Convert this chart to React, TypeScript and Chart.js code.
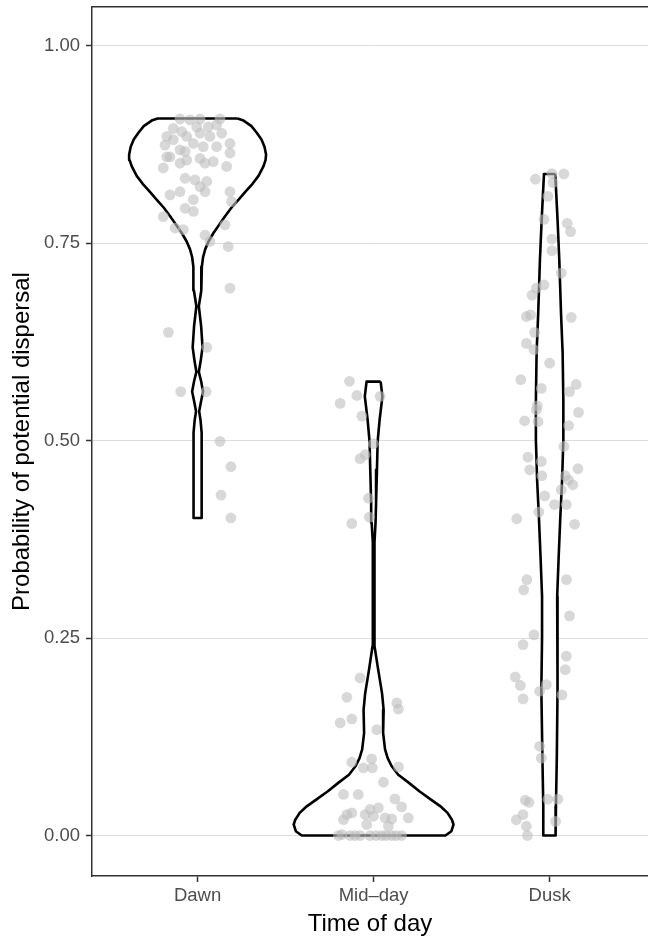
import React, { useEffect, useRef } from "react";
import { Chart, registerables } from "chart.js";

Chart.register(...registerables);

// ---- data ----
const categories = ["Dawn", "Mid\u2013day", "Dusk"];
const yTicks = [0, 0.25, 0.5, 0.75, 1.0];
const Y_MIN = -0.0512;
const Y_MAX = 1.0488;
const X_MIN = 0.4;
const X_MAX = 3.559;

// violin outlines: level (probability) and half-width (category units)
const dawnLevels = [0.9076, 0.905, 0.898, 0.89, 0.881, 0.872, 0.862, 0.855, 0.847, 0.835, 0.825, 0.815, 0.805, 0.795, 0.784, 0.773, 0.763, 0.752, 0.742, 0.732, 0.72, 0.69, 0.67, 0.645, 0.618, 0.6, 0.587, 0.575, 0.562, 0.55, 0.537, 0.525, 0.51, 0.402];
const dawnHalfWidths = [0.227, 0.261, 0.306, 0.335, 0.363, 0.38, 0.389, 0.386, 0.374, 0.346, 0.312, 0.272, 0.233, 0.193, 0.156, 0.122, 0.091, 0.062, 0.043, 0.031, 0.024, 0.021, 0.007, 0.02, 0.028, 0.017, 0.007, 0.02, 0.031, 0.02, 0.009, 0.017, 0.023, 0.023];

const middayLevels = [0.5746, 0.556, 0.526, 0.499, 0.463, 0.421, 0.396, 0.371, 0.3, 0.24, 0.21, 0.18, 0.159, 0.13, 0.109, 0.098, 0.088, 0.077, 0.067, 0.056, 0.0455, 0.037, 0.0287, 0.02, 0.014, 0.0055, 0];
const middayHalfWidths = [0.04, 0.05, 0.034, 0.023, 0.019, 0.014, 0.011, 0.005, 0.004, 0.006, 0.026, 0.048, 0.057, 0.054, 0.065, 0.08, 0.102, 0.14, 0.199, 0.26, 0.326, 0.38, 0.42, 0.445, 0.454, 0.442, 0.408];

const duskLevels = [0.8375, 0.78, 0.7287, 0.66, 0.6107, 0.55, 0.501, 0.45, 0.404, 0.35, 0.303, 0.25, 0.185, 0.1, 0.037, 0];
const duskHalfWidths = [0.032, 0.045, 0.055, 0.065, 0.074, 0.078, 0.078, 0.071, 0.061, 0.051, 0.043, 0.043, 0.047, 0.041, 0.036, 0.034];

// jittered observations: value and horizontal jitter (category units)
const dawnValues = [0.907, 0.906, 0.907, 0.907, 0.895, 0.891, 0.897, 0.897, 0.8995, 0.885, 0.881, 0.885, 0.889, 0.885, 0.889, 0.876, 0.874, 0.868, 0.866, 0.876, 0.872, 0.872, 0.864, 0.859, 0.859, 0.851, 0.855, 0.857, 0.851, 0.853, 0.847, 0.845, 0.832, 0.83, 0.828, 0.8215, 0.811, 0.815, 0.805, 0.815, 0.815, 0.8025, 0.794, 0.79, 0.7835, 0.769, 0.767, 0.76, 0.773, 0.7456, 0.752, 0.693, 0.637, 0.618, 0.562, 0.562, 0.499, 0.467, 0.431, 0.402];
const dawnJitter = [-0.1, -0.043, 0.014, 0.127, -0.138, -0.09, -0.005, 0.061, 0.108, -0.175, -0.138, -0.062, 0.014, 0.07, 0.137, 0.184, -0.185, -0.1, -0.071, -0.024, 0.032, 0.108, 0.184, -0.175, -0.157, -0.1, -0.062, 0.014, 0.042, 0.089, 0.165, -0.195, -0.071, -0.015, 0.052, 0.014, -0.157, -0.1, -0.024, 0.042, 0.184, 0.193, -0.071, -0.024, -0.195, -0.128, -0.081, 0.042, 0.155, 0.174, 0.07, 0.184, -0.166, 0.052, -0.096, 0.048, 0.127, 0.189, 0.133, 0.189];

const middayValues = [0.575, 0.557, 0.547, 0.556, 0.531, 0.496, 0.482, 0.477, 0.427, 0.403, 0.395, 0.1995, 0.175, 0.168, 0.16, 0.1426, 0.1476, 0.134, 0.0928, 0.0857, 0.097, 0.0857, 0.087, 0.0675, 0.052, 0.052, 0.0464, 0.0363, 0.0266, 0.033, 0.035, 0.0244, 0.0224, 0.0211, 0.0224, 0.0202, 0.0266, 0.0287, 0.0013, 0, 0, 0, 0, 0, 0, 0, 0.014, 0.012, 0, 0, 0, 0];
const middayJitter = [-0.137, -0.095, -0.19, 0.037, -0.067, -0.001, -0.048, -0.077, -0.029, -0.024, -0.124, -0.077, -0.152, 0.132, 0.141, -0.19, -0.124, 0.018, -0.124, -0.058, -0.011, -0.007, 0.141, 0.056, -0.171, -0.087, 0.121, 0.159, -0.152, -0.02, 0.027, -0.001, 0.065, 0.103, 0.197, -0.171, -0.048, -0.124, -0.18, -0.134, -0.077, -0.02, 0.047, 0.103, 0.159, -0.2, -0.039, 0.084, -0.105, 0.014, 0.071, 0.128];

const duskValues = [0.8308, 0.838, 0.8375, 0.8265, 0.809, 0.78, 0.775, 0.7645, 0.755, 0.7405, 0.712, 0.697, 0.693, 0.684, 0.657, 0.659, 0.656, 0.637, 0.623, 0.615, 0.598, 0.577, 0.566, 0.571, 0.562, 0.544, 0.539, 0.5356, 0.525, 0.524, 0.519, 0.4925, 0.479, 0.4735, 0.463, 0.4643, 0.4555, 0.4555, 0.45, 0.444, 0.4377, 0.43, 0.419, 0.419, 0.4095, 0.401, 0.394, 0.324, 0.311, 0.324, 0.278, 0.254, 0.2417, 0.227, 0.21, 0.2008, 0.19, 0.191, 0.1826, 0.173, 0.178, 0.113, 0.098, 0.0447, 0.042, 0.046, 0.046, 0.0266, 0.02, 0.0118, 0.018, 0];
const duskJitter = [-0.081, 0.013, 0.081, 0.019, -0.01, -0.032, 0.1, 0.119, 0.013, 0.013, 0.066, -0.032, -0.075, -0.1, -0.132, -0.108, 0.123, -0.085, -0.132, -0.089, 0, -0.164, -0.047, 0.151, 0.113, -0.07, -0.075, 0.164, -0.142, -0.066, 0.108, 0.081, -0.123, -0.047, -0.113, 0.161, -0.044, 0.089, 0.108, 0.132, 0.066, -0.028, 0.028, 0.095, -0.061, -0.187, 0.142, -0.129, -0.147, 0.096, 0.113, -0.089, -0.151, 0.095, 0.089, -0.195, -0.166, -0.019, -0.057, -0.151, 0.07, -0.057, -0.047, -0.138, -0.117, -0.01, 0.047, -0.151, -0.189, -0.132, 0.034, -0.126];

const FONT = "'Liberation Sans', Arial, Helvetica, sans-serif";
const TICK_SIZE = 18.5;
const TITLE_SIZE = 24;

function violinOutline(center: number, levels: number[], widths: number[]) {
  const right = levels.map((y, i) => ({ x: center + widths[i], y }));
  const left = levels.map((y, i) => ({ x: center - widths[i], y })).reverse();
  const pts = [...right, ...left];
  pts.push(pts[0]);
  return pts;
}

function jitterPoints(center: number, values: number[], jitter: number[]) {
  return values.map((v, i) => ({ x: center + jitter[i], y: v }));
}

function noPadding(s: any) {
  s.paddingLeft = 0;
  s.paddingRight = 0;
  s.paddingTop = 0;
  s.paddingBottom = 0;
}

export default function App() {
  const canvasRef = useRef<HTMLCanvasElement | null>(null);

  useEffect(() => {
    if (!canvasRef.current) return;
    Chart.defaults.font.family = FONT;

    const violins = [
      [dawnLevels, dawnHalfWidths],
      [middayLevels, middayHalfWidths],
      [duskLevels, duskHalfWidths],
    ].map(([lv, hw], i) => ({
      type: "scatter" as const,
      data: violinOutline(i + 1, lv, hw),
      showLine: true,
      fill: "shape",
      backgroundColor: "#ffffff",
      borderColor: "#000000",
      borderWidth: 2.6,
      borderJoinStyle: "round" as const,
      pointRadius: 0,
      pointHoverRadius: 0,
      order: 2,
    }));

    const pts = [
      ...jitterPoints(1, dawnValues, dawnJitter),
      ...jitterPoints(2, middayValues, middayJitter),
      ...jitterPoints(3, duskValues, duskJitter),
    ];

    const chart = new Chart(canvasRef.current, {
      type: "scatter",
      data: {
        datasets: [
          {
            data: pts,
            pointRadius: 5.4,
            pointBorderWidth: 0,
            pointBackgroundColor: "rgba(190,190,190,0.6)",
            backgroundColor: "rgba(190,190,190,0.6)",
            borderColor: "rgba(0,0,0,0)",
            showLine: false,
            order: 1,
          } as any,
          ...(violins as any[]),
        ],
      },
      options: {
        animation: false,
        responsive: true,
        maintainAspectRatio: false,
        layout: { padding: 0, autoPadding: false },
        plugins: {
          legend: { display: false },
          tooltip: { enabled: false },
        },
        scales: {
          x: {
            type: "linear",
            position: "bottom",
            min: X_MIN,
            max: X_MAX,
            afterFit: (s: any) => {
              s.height = 62;
              noPadding(s);
            },
            afterBuildTicks: (s: any) => {
              s.ticks = categories.map((_, i) => ({ value: i + 1 }));
            },
            ticks: {
              autoSkip: false,
              maxRotation: 0,
              padding: 3,
              color: "#4d4d4d",
              font: { size: TICK_SIZE, family: FONT },
              callback: (_v: any, i: number) => categories[i],
            },
            grid: {
              drawOnChartArea: false,
              color: "#333333",
              tickColor: "#333333",
              tickLength: 6,
              tickWidth: 1.5,
            },
            border: { display: true, color: "#333333", width: 1.5 },
            title: {
              display: true,
              text: "Time of day",
              color: "#000000",
              font: { size: TITLE_SIZE, family: FONT },
              padding: { top: 0, bottom: -1 },
            },
          },
          x2: {
            type: "linear",
            position: "top",
            display: true,
            min: X_MIN,
            max: X_MAX,
            afterFit: (s: any) => {
              s.height = 7;
              noPadding(s);
            },
            ticks: { display: false },
            grid: { display: false },
            border: { display: true, color: "#333333", width: 1.5 },
          },
          y: {
            type: "linear",
            min: Y_MIN,
            max: Y_MAX,
            afterFit: (s: any) => {
              s.width = 92;
              noPadding(s);
            },
            afterBuildTicks: (s: any) => {
              s.ticks = yTicks.map((v) => ({ value: v }));
            },
            ticks: {
              padding: 6,
              color: "#4d4d4d",
              font: { size: TICK_SIZE, family: FONT },
              callback: (v: any) => Number(v).toFixed(2),
            },
            grid: {
              color: "#dcdcdc",
              lineWidth: 1,
              tickColor: "#333333",
              tickLength: 6,
              tickWidth: 1.5,
            },
            border: { display: true, color: "#333333", width: 1.5 },
            title: {
              display: true,
              text: "Probability of potential dispersal",
              color: "#000000",
              font: { size: TITLE_SIZE, family: FONT },
              padding: { top: 8, bottom: 0 },
            },
          },
        },
      } as any,
    });

    return () => chart.destroy();
  }, []);

  return (
    <div style={{ position: "absolute", left: 0, top: 0, width: 648, height: 938, background: "#ffffff" }}>
      <canvas ref={canvasRef} />
    </div>
  );
}
